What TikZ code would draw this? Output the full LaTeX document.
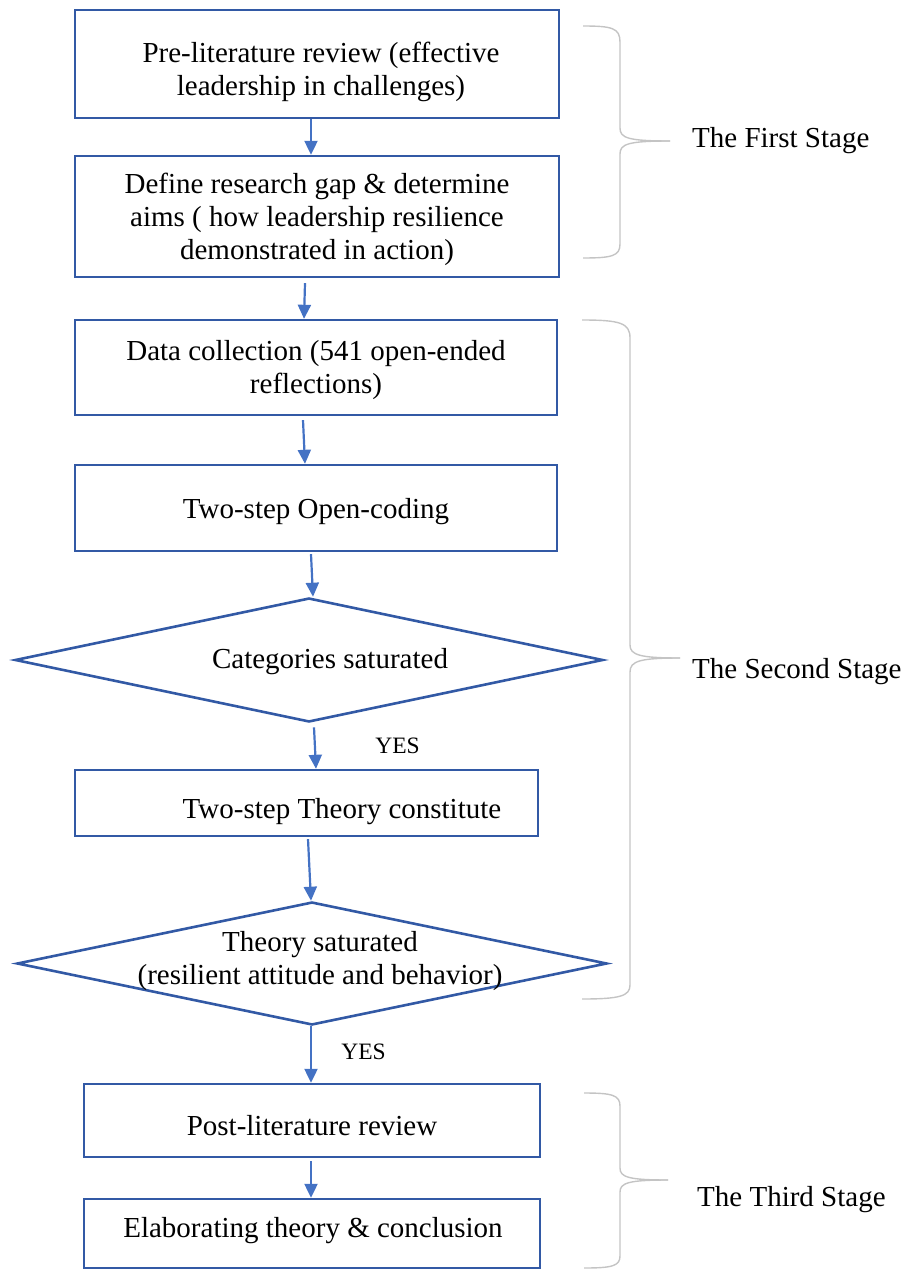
\documentclass[tikz,border=0pt]{standalone}
\usepackage{fontspec}
\setmainfont{Liberation Serif}
\usetikzlibrary{shapes.geometric,arrows.meta}
\definecolor{boxblue}{HTML}{3259A5}
\definecolor{arrowblue}{HTML}{4472C4}
\definecolor{bracegray}{HTML}{C4C4C4}
\tikzset{
  stepbox/.style={draw=boxblue, line width=2.4pt, rectangle, inner sep=0pt, align=center,
    font=\fontsize{29}{33}\selectfont},
  decision/.style={draw=boxblue, line width=2.6pt, diamond, inner sep=0pt},
  flow/.style={draw=arrowblue, line width=2.2pt, -{Triangle[length=14pt,width=13pt]}},
  bracestyle/.style={draw=bracegray, line width=1.4pt},
  maintext/.style={font=\fontsize{29}{33}\selectfont, align=center, inner sep=0pt},
  stagetext/.style={font=\fontsize{29}{33}\selectfont, anchor=west, inner sep=0pt},
  yestext/.style={font=\fontsize{23.5}{26}\selectfont, inner sep=0pt}
}
\begin{document}
\begin{tikzpicture}[x=1pt,y=-1pt]
\useasboundingbox (0,0) rectangle (908,1271);

% boxes
\node[stepbox, minimum width=484, minimum height=108] (b1) at (317,64) {};
\node[maintext] (t1) at (321,71.5) {Pre-literature review (effective\\leadership in challenges)};
\node[stepbox, minimum width=484, minimum height=121] (b2) at (317,216.5) {};
\node[maintext] (t2) at (317,219) {Define research gap \& determine\\aims ( how leadership resilience\\demonstrated in action)};
\node[stepbox, minimum width=482, minimum height=95] (b3) at (316,367.5) {};
\node[maintext] (t3) at (316,370.5) {Data collection (541 open-ended\\reflections)};
\node[stepbox, minimum width=482, minimum height=86] (b4) at (316,508) {};
\node[maintext] (t4) at (316,512) {Two-step Open-coding};
\node[decision, minimum width=588, minimum height=124] (d1) at (309,660) {};
\node[maintext] (t5) at (330,662) {Categories saturated};
\node[stepbox, minimum width=463, minimum height=66] (b5) at (306.5,803) {};
\node[maintext] (t6) at (342,812) {Two-step Theory constitute};
\node[decision, minimum width=590, minimum height=123] (d2) at (312,963.5) {};
\node[maintext] (t7) at (320,961.5) {Theory saturated\\(resilient attitude and behavior)};
\node[stepbox, minimum width=456, minimum height=73] (b6) at (312,1120.5) {};
\node[maintext] (t8) at (312,1126) {Post-literature review};
\node[stepbox, minimum width=456, minimum height=69] (b7) at (312,1233.5) {};
\node[maintext] (t9) at (313,1231) {Elaborating theory \& conclusion};

% YES labels
\node[yestext] (y1) at (397.5,746) {YES};
\node[yestext] (y2) at (363.5,1052) {YES};

% connectors
\draw[flow] ([xshift=-6pt]b1.south) -- ([xshift=-6pt]b2.north);
\draw[flow] ([xshift=-12pt,yshift=-5pt]b2.south) -- ([xshift=-12pt]b3.north);
\draw[flow] ([xshift=-13pt,yshift=-4pt]b3.south) -- ([xshift=-11pt]b4.north);
\draw[flow] ([xshift=-5pt,yshift=-2pt]b4.south) -- ([xshift=4pt]d1.north);
\draw[flow] ([xshift=5pt,yshift=-4pt]d1.south) -- ([xshift=9.5pt]b5.north);
\draw[flow] ([xshift=1.5pt,yshift=-2pt]b5.south) -- ([xshift=-1pt]d2.north);
\draw[flow] ([xshift=-1pt]d2.south) -- ([xshift=-1pt]b6.north);
\draw[flow] ([xshift=-1pt,yshift=-3pt]b6.south) -- ([xshift=-1pt]b7.north);

% braces
\coordinate (br1) at (670,141);
\draw[bracestyle] (583,26) .. controls (612,26) and (620,28) .. (620,42) -- (620,128)
  .. controls (620,138) and (628,141) .. (br1);
\draw[bracestyle] (br1) .. controls (628,141) and (620,144) .. (620,154) -- (620,244)
  .. controls (620,256) and (612,258) .. (583,258);
\node[stagetext] (s1) at (692,141) {The First Stage};

\coordinate (br2) at (680,658);
\draw[bracestyle] (582,320) .. controls (620,320) and (630,323) .. (630,338) -- (630,645)
  .. controls (630,655) and (640,658) .. (br2);
\draw[bracestyle] (br2) .. controls (640,658) and (630,661) .. (630,672) -- (630,985)
  .. controls (630,996) and (620,999) .. (582,999);
\node[stagetext] (s2) at (692,672) {The Second Stage};

\coordinate (br3) at (668,1180);
\draw[bracestyle] (584,1093) .. controls (612,1093) and (620,1095) .. (620,1106) -- (620,1168)
  .. controls (620,1177) and (628,1180) .. (br3);
\draw[bracestyle] (br3) .. controls (628,1180) and (620,1183) .. (620,1192) -- (620,1256)
  .. controls (620,1266) and (612,1268) .. (584,1268);
\node[stagetext] (s3) at (697,1200) {The Third Stage};
\end{tikzpicture}
\end{document}
